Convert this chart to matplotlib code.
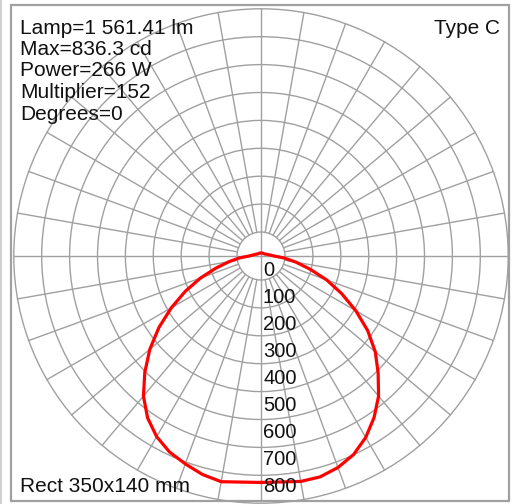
################################################################
# libraries:
import numpy as np
import matplotlib
matplotlib.use("Agg")
import matplotlib.pyplot as plt
from matplotlib.patches import Circle, Rectangle

################################################################
# data:
# gamma measured from nadir (0 = straight down), intensity in cd
gamma = [0, 10, 15, 20, 25, 30, 35, 40, 45, 50, 55, 60, 65, 70, 75, 80, 85, 90, 105, 120, 150, 180]
cd_c0 = [827, 836, 835, 822, 800, 765, 720, 668, 605, 545, 476, 400, 325, 255, 185, 130, 85, 48, 23, 15, 12, 11]
cd_c180 = [827, 837, 826, 808, 790, 762, 722, 668, 600, 530, 455, 378, 305, 235, 170, 118, 78, 44, 22, 15, 12, 11]
ring_values = [0, 100, 200, 300, 400, 500, 600, 700, 800]
spoke_step = 10

info_lines = ["Lamp=1 561.41 lm", "Max=836.3 cd", "Power=266 W", "Multiplier=152", "Degrees=0"]
type_label = "Type C"
shape_label = "Rect 350x140 mm"

################################################################
# layout (pixel units):
W, H = 513, 504
cx, cy = 261, 256
px_per_cd = 229 / 836.3
ring_r0 = 24
ring_step = 27.9 / 100
grid_col = "#a0a0a0"
txt_col = "#111111"

fig = plt.figure(figsize=(W / 100, H / 100), dpi=100)
ax = fig.add_axes([0, 0, 1, 1])
ax.set_xlim(0, W)
ax.set_ylim(H, 0)
ax.axis("off")

frame = Rectangle((11, 5), 498, 496, fill=False, edgecolor=grid_col, linewidth=1.6, zorder=5)
ax.add_patch(frame)
ax.plot([1, 1], [0, H], color="#c8c8c8", linewidth=1.2)

# rings
r_out = ring_r0 + ring_values[-1] * ring_step
for v in ring_values:
    c = Circle((cx, cy), ring_r0 + v * ring_step, fill=False, edgecolor=grid_col, linewidth=1.0)
    c.set_clip_path(frame)
    ax.add_patch(c)

# spokes
for a in range(0, 360, spoke_step):
    t = np.radians(a)
    if a % 90 == 0 and a >= 180:
        continue
    r_in = -r_out if a % 90 == 0 else ring_r0
    xs = [cx + r_in * np.sin(t), cx + r_out * np.sin(t)]
    ys = [cy + r_in * np.cos(t), cy + r_out * np.cos(t)]
    ln, = ax.plot(xs, ys, color=grid_col, linewidth=1.0)
    ln.set_clip_path(frame)

# ring labels
for k, v in enumerate(ring_values):
    ax.text(cx + 2, cy + 14 + k * 27.1, str(v), fontsize=14.5, family="Liberation Sans",
            color=txt_col, ha="left", va="center", zorder=6)

# photometric curve
g = np.radians(np.array(gamma))
r0 = np.array(cd_c0) * px_per_cd
r180 = np.array(cd_c180) * px_per_cd
x = np.concatenate([cx + r0 * np.sin(g), (cx - r180 * np.sin(g))[::-1]])
y = np.concatenate([cy + r0 * np.cos(g), (cy + r180 * np.cos(g))[::-1]])
ax.plot(x, y, color="#ff0000", linewidth=2.3, zorder=4, solid_joinstyle="round")

# texts
for i, s in enumerate(info_lines):
    ax.text(20, 28 + i * 21.5, s, fontsize=15, family="Liberation Sans",
            color=txt_col, ha="left", va="center", zorder=6)
ax.text(500, 28, type_label, fontsize=15, family="Liberation Sans",
        color=txt_col, ha="right", va="center", zorder=6)
ax.text(20, 487, shape_label, fontsize=15, family="Liberation Sans",
        color=txt_col, ha="left", va="center", zorder=6)

fig.savefig("out.png", dpi=100, facecolor="white")
plt.close()
